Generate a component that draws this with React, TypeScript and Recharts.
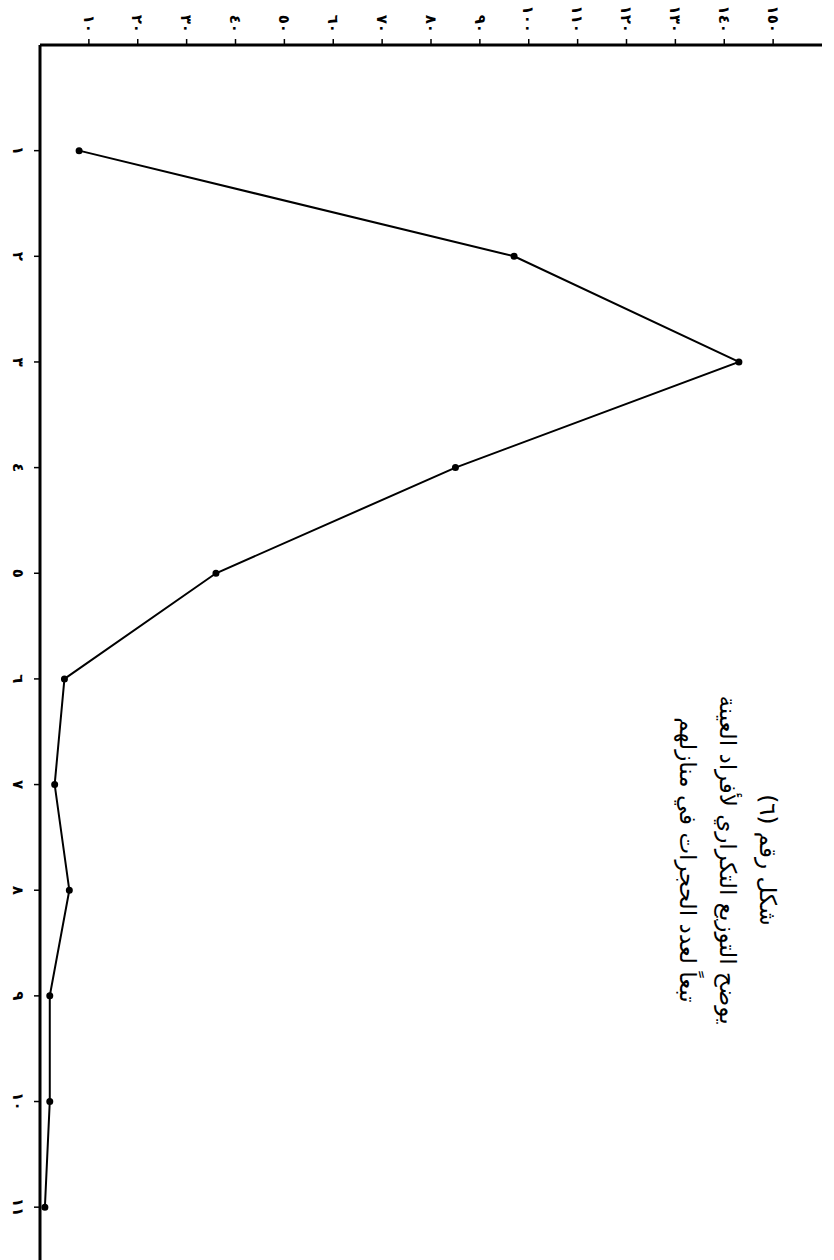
import { LineChart, Line, XAxis, YAxis } from "recharts";

// عدد الحجرات (rooms) and number of respondents
const rooms = [1, 2, 3, 4, 5, 6, 7, 8, 9, 10, 11];
const counts = [8, 97, 143, 85, 36, 5, 3, 6, 2, 2, 1];
const valueTicks = [10, 20, 30, 40, 50, 60, 70, 80, 90, 100, 110, 120, 130, 140, 150];
const titleLines = [
  "شكل رقم (٦)",
  "يوضح التوزيع التكراري لأفراد العينة",
  "تبعاً لعدد الحجرات في منازلهم",
];

const arabicDigits = "٠١٢٣٤٥٦٧٨٩";
const toArabic = (n: number) => String(n).replace(/\d/g, (d) => arabicDigits[Number(d)]);

const data = rooms.map((r, i) => ({ rooms: r, count: counts[i] }));

const tickStyle = { fill: "#000", fontSize: 15, fontWeight: 700, fontFamily: "DejaVu Sans" };

export default function App() {
  return (
    <div
      style={{
        position: "absolute",
        left: 0,
        top: 0,
        width: 834,
        height: 1260,
        overflow: "hidden",
        background: "#fff",
      }}
    >
      {/* chart is drawn upright then turned a quarter clockwise, like the scanned page */}
      <div
        style={{
          position: "absolute",
          left: 0,
          top: 0,
          width: 1260,
          height: 834,
          transform: "translate(834px, 0) rotate(90deg)",
          transformOrigin: "0 0",
        }}
      >
        <LineChart width={1260} height={834} data={data} margin={{ top: 12, right: 0, bottom: 0, left: 0 }}>
          <XAxis
            dataKey="rooms"
            type="number"
            domain={[0, 11.5]}
            ticks={rooms}
            tickFormatter={toArabic}
            axisLine={{ stroke: "#000", strokeWidth: 3 }}
            tickLine={{ stroke: "#000", strokeWidth: 1.5 }}
            tickSize={6}
            tickMargin={10}
            height={40}
            tick={tickStyle}
          />
          <YAxis
            type="number"
            domain={[0, 160]}
            ticks={valueTicks}
            tickFormatter={toArabic}
            axisLine={{ stroke: "#000", strokeWidth: 3 }}
            tickLine={{ stroke: "#000", strokeWidth: 1.5 }}
            tickSize={6}
            tickMargin={6}
            width={45}
            tick={tickStyle}
          />
          <Line
            type="linear"
            dataKey="count"
            stroke="#000"
            strokeWidth={2}
            dot={{ r: 2.5, fill: "#000", stroke: "#000" }}
            activeDot={false}
            isAnimationActive={false}
          />
        </LineChart>
        <div
          style={{
            position: "absolute",
            left: 610,
            top: 46,
            width: 500,
            direction: "rtl",
            textAlign: "center",
            fontFamily: "DejaVu Sans",
            fontSize: 23,
            lineHeight: "40px",
            color: "#000",
          }}
        >
          {titleLines.map((t) => (
            <div key={t}>{t}</div>
          ))}
        </div>
      </div>
    </div>
  );
}
